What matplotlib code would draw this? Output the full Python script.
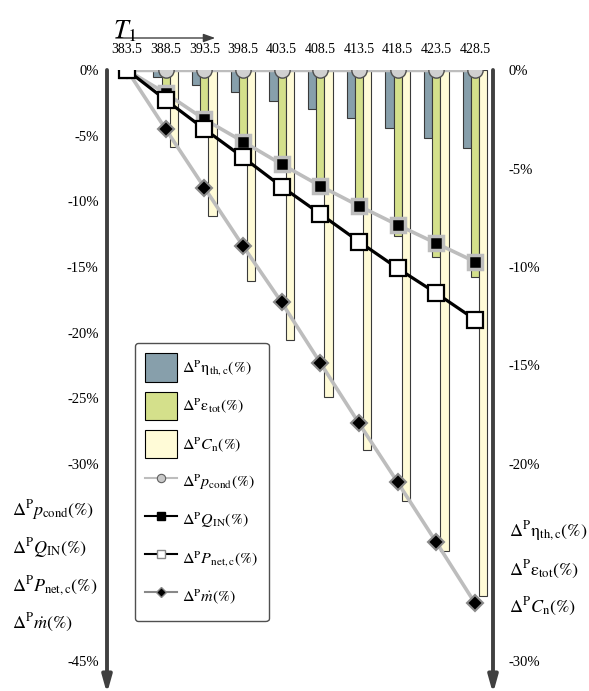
import matplotlib
matplotlib.use("Agg")
import matplotlib.pyplot as plt
from matplotlib.lines import Line2D
from matplotlib.patches import Patch, FancyArrowPatch

plt.rcParams['font.family'] = ['Liberation Serif', 'DejaVu Serif']
plt.rcParams['mathtext.fontset'] = 'stix'

# ---------------- data ----------------
T1 = [383.5, 388.5, 393.5, 398.5, 403.5, 408.5, 413.5, 418.5, 423.5, 428.5]
T1_labels = ['383.5', '388.5', '393.5', '398.5', '403.5', '408.5', '413.5', '418.5', '423.5', '428.5']

# bars (right axis, %)
T1_bar = [388.5, 393.5, 398.5, 403.5, 408.5, 413.5, 418.5, 423.5, 428.5]
d_eta_thc = [-0.34, -0.75, -1.12, -1.55, -2.0, -2.45, -2.92, -3.44, -3.95]
d_eps_tot = [-1.1, -2.3, -3.5, -4.7, -5.9, -7.1, -8.42, -9.49, -10.5]
d_Cn = [-3.9, -7.4, -10.7, -13.7, -16.6, -19.3, -21.9, -24.4, -26.7]

# lines (left axis, %)
d_pcond = [0, 0, 0, 0, 0, 0, 0, 0, 0, 0]
d_QIN = [0, -1.77, -3.75, -5.45, -7.18, -8.83, -10.35, -11.8, -13.2, -14.6]
d_Pnet = [0, -2.28, -4.49, -6.65, -8.88, -10.96, -13.07, -15.1, -17.0, -19.0]
d_mdot = [0, -4.5, -8.95, -13.4, -17.7, -22.3, -26.9, -31.4, -35.96, -40.6]

left_ticks = [0, -5, -10, -15, -20, -25, -30, -45]
left_ticklabels = ['0%', '-5%', '-10%', '-15%', '-20%', '-25%', '-30%', '-45%']
right_ticks = [0, -5, -10, -15, -20, -30]
right_ticklabels = ['0%', '-5%', '-10%', '-15%', '-20%', '-30%']

lab_eta = r'$\Delta^{\mathrm{P}}\mathrm{\eta}_{\mathrm{th,c}}(\%)$'
lab_eps = r'$\Delta^{\mathrm{P}}\mathrm{\varepsilon}_{\mathrm{tot}}(\%)$'
lab_Cn = r'$\Delta^{\mathrm{P}}C_{\mathrm{n}}(\%)$'
lab_p = r'$\Delta^{\mathrm{P}}p_{\mathrm{cond}}(\%)$'
lab_Q = r'$\Delta^{\mathrm{P}}Q_{\mathrm{IN}}(\%)$'
lab_P = r'$\Delta^{\mathrm{P}}P_{\mathrm{net,c}}(\%)$'
lab_m = r'$\Delta^{\mathrm{P}}\dot{m}(\%)$'

# ---------------- style ----------------
c_eta = '#879fab'
c_eps = '#d4e08b'
c_cn = '#fffbd7'
c_edge = '#3a3a3a'
c_grey = '#bdbdbd'
c_axis = '#404040'
bw = 1.07

W, H = 589, 691
fig = plt.figure(figsize=(W / 100, H / 100), dpi=100)

x0, x1 = 107, 493
y0, y1 = 70, 661
axr = fig.add_axes([x0 / W, 1 - y1 / H, (x1 - x0) / W, (y1 - y0) / H])
axl = axr.twinx()

# bars on right scale
axr.bar([t - bw for t in T1_bar], d_eta_thc, width=bw, color=c_eta, edgecolor=c_edge, linewidth=0.8)
axr.bar(T1_bar, d_eps_tot, width=bw, color=c_eps, edgecolor=c_edge, linewidth=0.8)
axr.bar([t + bw for t in T1_bar], d_Cn, width=bw, color=c_cn, edgecolor=c_edge, linewidth=0.8)

axr.set_ylim(-30, 0)
axl.set_ylim(-45, 0)
xl = (383.5 - 20 / 7.733, 428.5 + 18 / 7.733)
axr.set_xlim(*xl)
axl.set_xlim(*xl)

# lines on left scale
axl.plot(T1, d_pcond, color=c_grey, lw=3.2, marker='o', ms=11, mfc='#d0d0d0', mec='#505050', mew=1.0, zorder=3)
axl.plot(T1, d_mdot, color=c_grey, lw=2.6, marker='D', ms=8.5, mfc='black', mec='#8a8a8a', mew=1.5, zorder=3)
axl.plot(T1, d_QIN, color=c_grey, lw=2.6, marker='s', ms=10, mfc='black', mec=c_grey, mew=2.5, zorder=4)
axl.plot(T1, d_Pnet, color='black', lw=2.3, marker='s', ms=11.5, mfc='white', mec='black', mew=1.6, zorder=5)

for a in (axr, axl):
    for s in a.spines.values():
        s.set_visible(False)
    a.set_facecolor('none')

axl.yaxis.tick_left()
axl.set_yticks(left_ticks)
axl.set_yticklabels(left_ticklabels)
axl.tick_params(axis='y', length=0, pad=6, labelsize=10.5)
axr.yaxis.tick_right()
axr.set_yticks(right_ticks)
axr.set_yticklabels(right_ticklabels)
axr.tick_params(axis='y', length=0, pad=11, labelsize=10.5)

axl.set_xticks([])
axr.xaxis.tick_top()
axr.set_xticks(T1)
axr.set_xticklabels(T1_labels)
axr.tick_params(axis='x', length=0, pad=10, labelsize=10)

# axis arrows
for xf in (0.0, 1.0):
    axr.annotate('', xy=(xf, -0.055), xytext=(xf, 1.0), xycoords='axes fraction',
                 arrowprops=dict(arrowstyle='-|>,head_length=1.0,head_width=0.28', lw=2.8,
                                 color=c_axis, shrinkA=0, shrinkB=0), annotation_clip=False)

# T1 label and arrow
fig.text(113 / W, 1 - 31 / H, r'$T_1$', fontsize=19, ha='left', va='center')
fig.add_artist(FancyArrowPatch((113, H - 38), (218, H - 38), transform=None,
               arrowstyle='-|>,head_length=7,head_width=2.5', lw=1.0, color=c_axis))

# side labels
for lab, yy in zip([lab_p, lab_Q, lab_P, lab_m], [510, 548, 586, 623]):
    fig.text(12 / W, 1 - yy / H, lab, fontsize=13, ha='left', va='center')
for lab, yy in zip([lab_eta, lab_eps, lab_Cn], [531, 570, 607]):
    fig.text(509 / W, 1 - yy / H, lab, fontsize=13, ha='left', va='center')

# legend
handles = [
    Patch(facecolor=c_eta, edgecolor='black', lw=0.8),
    Patch(facecolor=c_eps, edgecolor='black', lw=0.8),
    Patch(facecolor=c_cn, edgecolor='black', lw=0.8),
    Line2D([], [], color=c_grey, lw=1.5, marker='o', ms=6, mfc='#c8c8c8', mec='#606060', mew=0.8),
    Line2D([], [], color='black', lw=1.5, marker='s', ms=6, mfc='black', mec='black'),
    Line2D([], [], color='black', lw=1.5, marker='s', ms=6, mfc='white', mec='#888888'),
    Line2D([], [], color='#888888', lw=1.5, marker='D', ms=5.5, mfc='black', mec='#888888'),
]
labels = [lab_eta, lab_eps, lab_Cn, lab_p, lab_Q, lab_P, lab_m]
leg = fig.legend(handles, labels, loc='upper left', bbox_to_anchor=(135 / W, 1 - 343 / H),
                 bbox_transform=fig.transFigure, borderaxespad=0, fontsize=11.5,
                 handlelength=1.95, handleheight=2.35, labelspacing=0.62, handletextpad=0.35,
                 borderpad=0.65, fancybox=True, framealpha=1, edgecolor='#505050')
leg.get_frame().set_linewidth(1.0)

fig.savefig('out.png', dpi=100)
